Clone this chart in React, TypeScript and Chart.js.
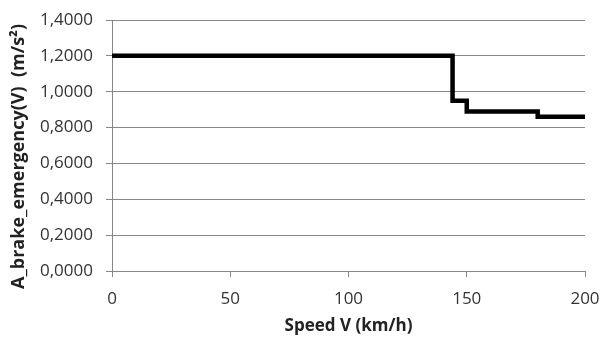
import React, { useEffect, useRef } from "react";
import { Chart, registerables } from "chart.js";
Chart.register(...registerables);

const speeds = [0, 144, 150, 180, 200];
const decel = [1.2, 0.95, 0.89, 0.86, 0.86];
const xTicks = [0, 50, 100, 150, 200];
const yTicks = [0, 0.2, 0.4, 0.6, 0.8, 1.0, 1.2, 1.4];
const xTitle = "Speed V (km/h)";
const yTitle = "A_brake_emergency(V)  (m/s²)";

const font = "'Open Sans', 'Noto Sans', sans-serif";

const yTitlePlugin = {
  id: "yTitlePlugin",
  afterDraw(chart: any) {
    const c = chart.ctx;
    c.save();
    c.translate(19, 156.5);
    c.rotate(-Math.PI / 2);
    c.font = `bold 18px ${font}`;
    c.fillStyle = "#222";
    c.textAlign = "center";
    c.textBaseline = "middle";
    c.fillText(yTitle, 0, 0);
    c.restore();
  },
};

export default function App() {
  const ref = useRef<HTMLCanvasElement>(null);
  useEffect(() => {
    const ctx = ref.current!;
    const chart = new Chart(ctx, {
      type: "line",
      data: {
        datasets: [
          {
            data: speeds.map((s, i) => ({ x: s, y: decel[i] })),
            borderColor: "#000",
            borderWidth: 4.5,
            stepped: true,
            pointRadius: 0,
            fill: false,
            borderJoinStyle: "miter",
          },
        ],
      },
      plugins: [yTitlePlugin],
      options: {
        animation: false,
        responsive: false,
        maintainAspectRatio: false,
        layout: { padding: { left: 30, right: 0, top: 20, bottom: 2 } },
        plugins: { legend: { display: false }, tooltip: { enabled: false } },
        scales: {
          x: {
            type: "linear",
            min: 0,
            max: 200,
            afterBuildTicks: (s: any) => {
              s.ticks = xTicks.map((v) => ({ value: v }));
            },
            afterFit: (s: any) => {
              s.height = 65;
              s.paddingRight = 15;
              s.paddingLeft = 0;
            },
            grid: {
              drawOnChartArea: false,
              drawTicks: true,
              tickLength: 6,
              color: "#868686",
            },
            border: { color: "#868686", width: 1 },
            ticks: {
              color: "#333",
              font: { family: font, size: 17 },
              padding: 12,
              maxRotation: 0,
            },
            title: {
              display: true,
              text: xTitle,
              color: "#222",
              font: { family: font, size: 17, weight: "bold" },
              padding: { top: 4, bottom: 0 },
            },
          },
          y: {
            type: "linear",
            min: 0,
            max: 1.4,
            afterBuildTicks: (s: any) => {
              s.ticks = yTicks.map((v) => ({ value: v }));
            },
            afterFit: (s: any) => {
              s.width = 82;
              s.paddingTop = 0;
              s.paddingBottom = 0;
            },
            grid: {
              drawTicks: true,
              tickLength: 6,
              color: "#868686",
              lineWidth: 1,
            },
            border: { color: "#868686", width: 1 },
            ticks: {
              color: "#333",
              font: { family: font, size: 17 },
              padding: 13,
              callback: (v: any) => Number(v).toFixed(4).replace(".", ","),
            },
            title: { display: false },
          },
        },
      },
    });
    return () => chart.destroy();
  }, []);
  return (
    <div style={{ position: "fixed", left: 0, top: 0, width: 600, height: 338, background: "#fff" }}>
      <canvas ref={ref} width={600} height={338} style={{ width: 600, height: 338 }} />
    </div>
  );
}
